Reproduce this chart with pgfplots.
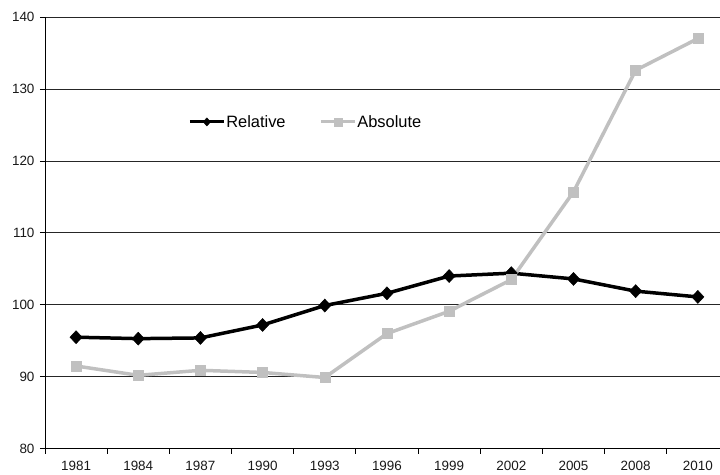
\documentclass[border=0pt]{standalone}
\usepackage{fontspec}
\setmainfont{Liberation Sans}
\usepackage{pgfplots}
\pgfplotsset{compat=1.18}
\definecolor{absgray}{HTML}{C0C0C0}

\begin{document}
\begin{tikzpicture}
\begin{axis}[
    name=ax,
    scale only axis,
    width=675bp, height=432bp,
    xmin=-0.5, xmax=10.35,
    ymin=80, ymax=140,
    ytick={80,90,...,140},
    xtick={0,...,10},
    xticklabels={1981,1984,1987,1990,1993,1996,1999,2002,2005,2008,2010},
    minor xtick={-0.5,0.5,...,9.5},
    axis x line*=bottom, axis y line*=left,
    axis line style={black, line width=0.8bp, -},
    ymajorgrids,
    grid style={black!85, line width=0.8bp},
    major x tick style={draw=none},
    tick style={black, line width=0.8bp},
    tick align=outside,
    major tick length=5bp, minor tick length=5bp,
    tick label style={font=\fontsize{13.5}{15}\selectfont, text=black!90},
    xticklabel style={yshift=-4bp},
    yticklabel style={xshift=-2bp},
    /pgf/number format/assume math mode=true,
    clip=true,
    legend style={at={(0.208,0.757)}, anchor=west, draw=none, fill=none,
        font=\fontsize{16.5}{18}\selectfont, legend columns=2,
        nodes={inner sep=1bp},
        /tikz/every even column/.append style={column sep=33bp}},
    legend image code/.code={
        \draw[mark repeat=2, mark phase=2, #1, line width=2.8bp, mark size=4bp]
            plot coordinates {(0bp,0bp) (17bp,0bp) (34bp,0bp)};
    },
]
\addplot[black, line width=3.5bp, mark=diamond*, mark size=6.5bp,
    mark options={solid, fill=black, line width=0.5bp, xscale=1.25}]
    coordinates {
    (0,95.5) (1,95.3) (2,95.4) (3,97.2) (4,99.9) (5,101.6)
    (6,104.0) (7,104.4) (8,103.6) (9,101.9) (10,101.1)
};
\addplot[absgray, line width=3.5bp, mark=square*, mark size=5bp,
    mark options={solid, fill=absgray, draw=absgray, line width=0.5bp}]
    coordinates {
    (0,91.5) (1,90.2) (2,90.9) (3,90.6) (4,89.9) (5,96.0)
    (6,99.1) (7,103.5) (8,115.7) (9,132.6) (10,137.0)
};
\legend{Relative, Absolute}
\end{axis}
\path ([xshift=-45bp,yshift=-26bp]ax.south west) rectangle ([yshift=17bp]ax.north east);
\end{tikzpicture}
\end{document}
